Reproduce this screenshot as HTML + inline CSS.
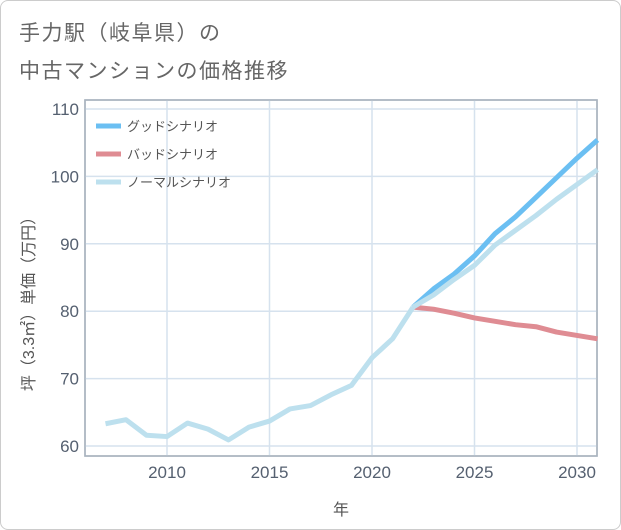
<!DOCTYPE html>
<html><head><meta charset="utf-8"><style>
body{margin:0;background:#fff;font-family:"Liberation Sans","Noto Sans CJK JP",sans-serif;}
#wrap{position:relative;width:619px;height:528px;border:1px solid #ccc;border-radius:8px;overflow:hidden;background:#fff}
.title{position:absolute;left:18px;font-size:21px;color:#666;letter-spacing:1.5px}
</style></head><body>
<div id="wrap">
<div class="title" style="top:16px">手力駅（岐阜県）の</div>
<div class="title" style="top:54px">中古マンションの価格推移</div>
<svg id="chart" width="621" height="530" style="position:absolute;left:-1px;top:-1px"></svg>
</div>
<script>
const years=[2007,2008,2009,2010,2011,2012,2013,2014,2015,2016,2017,2018,2019,2020,2021,2022];
const hist=[63.3,63.9,61.6,61.4,63.4,62.5,60.9,62.8,63.7,65.5,66.0,67.6,69.0,73.1,75.9,80.6];
const fYears=[2022,2023,2024,2025,2026,2027,2028,2029,2030,2031];
const good=[80.6,83.3,85.5,88.2,91.5,94.0,96.9,99.8,102.7,105.4];
const normal=[80.6,82.4,84.7,86.8,89.8,92.0,94.2,96.6,98.8,101.0];
const bad=[80.6,80.3,79.7,79.0,78.5,78.0,77.7,76.9,76.4,75.9];
const yTicks=[60,70,80,90,100,110];
const xTicks=[2010,2015,2020,2025,2030];
const L=85,T=100,R=597,B=456;
const x=y=>167+(y-2010)*20.5;
const yy=v=>446-(v-60)*6.74;
const svg=document.getElementById('chart');
const NS='http://www.w3.org/2000/svg';
function mk(t,a,p){const e=document.createElementNS(NS,t);for(const k in a)e.setAttribute(k,a[k]);(p||svg).appendChild(e);return e;}
mk('rect',{x:L,y:T,width:R-L,height:B-T,fill:'#fff',stroke:'#aab4bf','stroke-width':1.5});
yTicks.forEach(v=>{const l=mk('line',{x1:L,x2:R,y1:yy(v),y2:yy(v),stroke:'#d6e2ee','stroke-width':1.5});

const t=mk('text',{x:L-6,y:yy(v)+6,'text-anchor':'end','font-size':17,fill:'#556070'});t.textContent=v;
});
xTicks.forEach(v=>{const l=mk('line',{x1:x(v),x2:x(v),y1:T,y2:B,stroke:'#d6e2ee','stroke-width':1.5});

const t=mk('text',{x:x(v),y:B+22,'text-anchor':'middle','font-size':17,fill:'#556070'});t.textContent=v;
});
mk('rect',{x:L,y:T,width:R-L,height:B-T,fill:'none',stroke:'#aab4bf','stroke-width':1.5});
function line(xs,vs,c,name){const p=mk('polyline',{points:xs.map((a,i)=>x(a)+','+yy(vs[i])).join(' '),fill:'none',stroke:c,'stroke-width':5,'stroke-linejoin':'round'});
}
line(fYears,bad,'#df8c93','bad-scenario-line');
line(fYears,good,'#6bbff2','good-scenario-line');
line(fYears,normal,'#bde0ee','normal-scenario-line');
line(years,hist,'#bde0ee','historical-line');
const leg=[['グッドシナリオ','#6bbff2'],['バッドシナリオ','#df8c93'],['ノーマルシナリオ','#bde0ee']];
leg.forEach((d,i)=>{const g=mk('g',{});
mk('line',{x1:96,x2:121,y1:126+i*28,y2:126+i*28,stroke:d[1],'stroke-width':5},g);
const t=mk('text',{x:127,y:131+i*28,'font-size':13,fill:'#555'},g);t.textContent=d[0];});
const xt=mk('text',{x:341,y:515,'text-anchor':'middle','font-size':16,fill:'#555'});xt.textContent='年';

const yt=mk('text',{x:0,y:0,'text-anchor':'middle','font-size':16,fill:'#555',transform:'translate(34,300) rotate(-90)'});yt.textContent='坪（3.3㎡）単価（万円）';

</script>
</body></html>
